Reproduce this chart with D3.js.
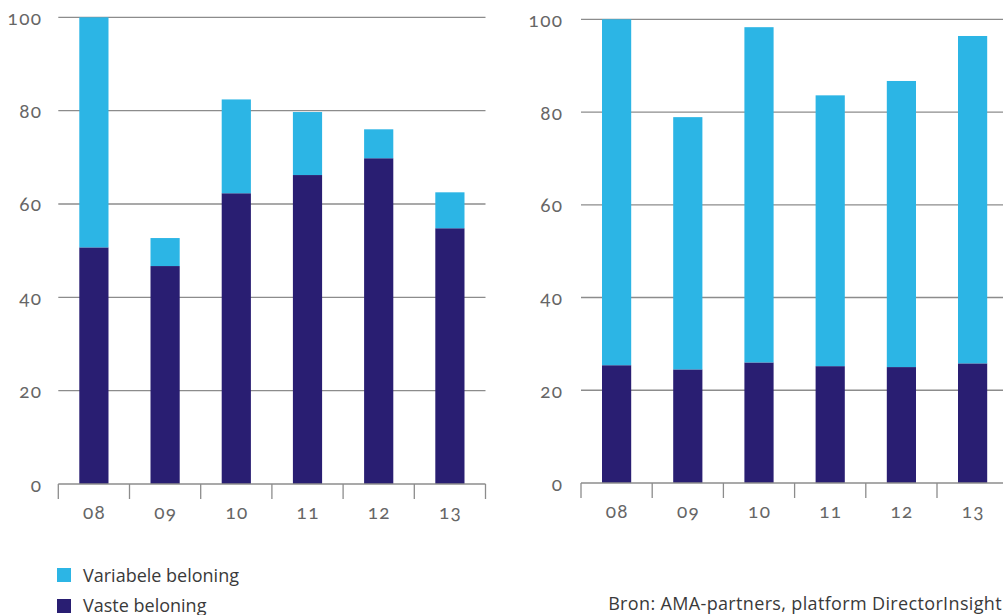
<!DOCTYPE html>
<html>
<head>
<meta charset="utf-8">
<script src="https://cdn.jsdelivr.net/npm/d3@7"></script>
<style>
  html, body { margin: 0; padding: 0; background: #fff; }
  svg { display: block; }
  .num { font-family: Lato, "Noto Sans", sans-serif; font-feature-settings: "onum" 1; font-variant-numeric: oldstyle-nums; fill: #666666; letter-spacing: 1.3px; }
  .txt { font-family: "Open Sans", "Noto Sans", sans-serif; fill: #3a3a3a; }
</style>
</head>
<body>
<svg id="chart" width="1003" height="615"></svg>
<script>
// ---- data ----
const years = ["08", "09", "10", "11", "12", "13"];
const yTicks = [0, 20, 40, 60, 80, 100];
const seriesNames = ["Variabele beloning", "Vaste beloning"];
// left panel
const leftVaste = [50.7, 46.7, 62.3, 66.2, 69.8, 54.8];
const leftVariabele = [49.3, 6.0, 20.1, 13.5, 6.2, 7.7];
// right panel
const rightVaste = [25.4, 24.5, 26.0, 25.2, 25.0, 25.8];
const rightVariabele = [74.6, 54.4, 72.3, 58.4, 61.7, 70.6];
const sourceText = "Bron: AMA-partners, platform DirectorInsight";

const colVar = "#2cb5e5";
const colVaste = "#291e72";
const gridCol = "#8c8c8c";

const svg = d3.select("#chart");

function panel(opts) {
  const { x0, yTop, yBottom, labelRight, vaste, variabele, gridEnd } = opts;
  const g = svg.append("g");
  const bandW = 71.2;
  const x = d3.scaleBand().domain(years).range([x0, x0 + bandW * years.length]).paddingInner(0.59).paddingOuter(0.295);
  const y = d3.scaleLinear().domain([0, 100]).range([yBottom, yTop]);

  g.selectAll("line.grid").data(yTicks.filter(d => d > 0)).enter().append("line")
    .attr("x1", x0).attr("x2", gridEnd)
    .attr("y1", d => y(d)).attr("y2", d => y(d))
    .attr("stroke", gridCol).attr("stroke-width", 1.3);

  g.selectAll("text.ylab").data(yTicks).enter().append("text")
    .attr("class", "num")
    .attr("x", labelRight + 1.3).attr("y", d => y(d) + 7.5)
    .attr("text-anchor", "end").attr("font-size", 19)
    .text(d => d);

  const rows = years.map((yr, i) => ({ yr, vaste: vaste[i], variabele: variabele[i] }));
  const stack = d3.stack().keys(["vaste", "variabele"])(rows);
  const colors = { vaste: colVaste, variabele: colVar };
  stack.forEach(layer => {
    g.selectAll(null).data(layer).enter().append("rect")
      .attr("x", d => x(d.data.yr))
      .attr("width", x.bandwidth())
      .attr("y", d => y(d[1]))
      .attr("height", d => y(d[0]) - y(d[1]))
      .attr("fill", colors[layer.key]);
  });

  g.append("line").attr("x1", x0).attr("x2", gridEnd)
    .attr("y1", y(0)).attr("y2", y(0)).attr("stroke", gridCol).attr("stroke-width", 1.3);
  const bounds = d3.range(years.length + 1).map(i => x0 + i * bandW);
  g.selectAll("line.tick").data(bounds).enter().append("line")
    .attr("x1", d => d).attr("x2", d => d)
    .attr("y1", y(0)).attr("y2", y(0) + 15)
    .attr("stroke", gridCol).attr("stroke-width", 1.3);
  g.selectAll("text.xlab").data(years).enter().append("text")
    .attr("class", "num")
    .attr("x", d => x(d) + x.bandwidth() / 2 + 0.65).attr("y", y(0) + 34.5)
    .attr("text-anchor", "middle").attr("font-size", 19)
    .text(d => d);
}

panel({ x0: 58.3, gridEnd: 485.5, yTop: 17.3, yBottom: 484, labelRight: 41, vaste: leftVaste, variabele: leftVariabele });
panel({ x0: 581, gridEnd: 1003, yTop: 19.3, yBottom: 483, labelRight: 562, vaste: rightVaste, variabele: rightVariabele });

// legend
const legendColors = [colVar, colVaste];
const lg = svg.append("g");
lg.selectAll("rect").data(seriesNames).enter().append("rect")
  .attr("x", 57).attr("y", (d, i) => 568 + i * 31)
  .attr("width", 14).attr("height", 14)
  .attr("fill", (d, i) => legendColors[i]);
lg.selectAll("text").data(seriesNames).enter().append("text")
  .attr("class", "txt")
  .attr("x", 83).attr("y", (d, i) => 582 + i * 30)
  .attr("font-size", 18)
  .text(d => d);

svg.append("text").attr("class", "txt")
  .attr("x", 1002).attr("y", 610)
  .attr("text-anchor", "end").attr("font-size", 18)
  .attr("letter-spacing", 0.35)
  .text(sourceText);
</script>
</body>
</html>
